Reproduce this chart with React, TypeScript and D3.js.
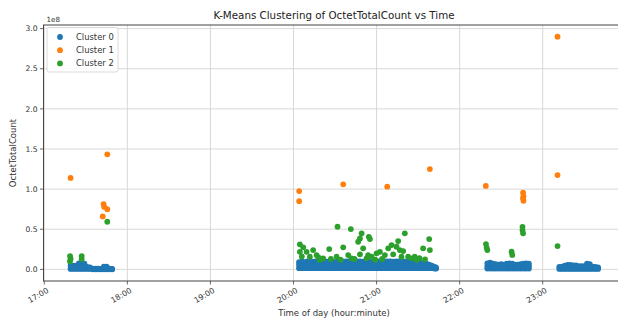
import React from "react";
import * as d3 from "d3";

// ---- data (time "HH:MM[.fraction]", values in units of 1e8) ----
// Cluster 0: each row is a time followed by the observed values at that time
const cluster0: (string | number)[][] = [
  ["17:19", 0.005, 0.045], ["17:21", 0.005, 0.045], ["17:23", 0.005, 0.045],
  ["17:25", 0.005, 0.04, 0.075], ["17:27", 0.005, 0.04, 0.08], ["17:29", 0.005, 0.04, 0.07],
  ["17:31", 0.005, 0.03], ["17:33", 0.005, 0.025], ["17:35", 0.0, 0.01], ["17:37", 0.0, 0.01],
  ["17:39", 0.0, 0.01], ["17:41", 0.0, 0.005], ["17:43", 0.0, 0.035], ["17:45", 0.0, 0.035],
  ["17:47", 0.0, 0.01], ["17:49", 0.0, 0.005],

  ["20:04", 0.015, 0.055, 0.09], ["20:06", 0.015, 0.055, 0.1], ["20:08", 0.015, 0.055, 0.09],
  ["20:10", 0.015, 0.055, 0.1], ["20:12", 0.015, 0.055, 0.1], ["20:14", 0.015, 0.055, 0.095],
  ["20:16", 0.015, 0.055, 0.1], ["20:18", 0.015, 0.055, 0.09], ["20:20", 0.015, 0.055, 0.1],
  ["20:22", 0.015, 0.055, 0.1], ["20:24", 0.015, 0.055, 0.095], ["20:26", 0.015, 0.055, 0.1],
  ["20:28", 0.015, 0.055, 0.1], ["20:30", 0.015, 0.055, 0.09], ["20:32", 0.015, 0.055, 0.1],
  ["20:34", 0.015, 0.055, 0.1], ["20:36", 0.015, 0.055, 0.095], ["20:38", 0.015, 0.055, 0.1],
  ["20:40", 0.015, 0.055, 0.1], ["20:42", 0.015, 0.055, 0.09], ["20:44", 0.015, 0.055, 0.1],
  ["20:46", 0.015, 0.055, 0.1], ["20:48", 0.015, 0.055, 0.1], ["20:50", 0.015, 0.055, 0.095],
  ["20:52", 0.015, 0.055, 0.1], ["20:54", 0.015, 0.055, 0.1], ["20:56", 0.015, 0.055, 0.09],
  ["20:58", 0.015, 0.055, 0.1], ["21:00", 0.015, 0.055, 0.1], ["21:02", 0.015, 0.055, 0.1],
  ["21:04", 0.015, 0.055, 0.095], ["21:06", 0.015, 0.055, 0.1], ["21:08", 0.015, 0.055, 0.1],
  ["21:10", 0.015, 0.055, 0.1], ["21:12", 0.015, 0.055, 0.095], ["21:14", 0.015, 0.055, 0.1],
  ["21:16", 0.015, 0.055, 0.1], ["21:18", 0.015, 0.055, 0.1], ["21:20", 0.015, 0.055, 0.095],
  ["21:22", 0.015, 0.055, 0.1], ["21:24", 0.015, 0.055, 0.1], ["21:26", 0.015, 0.055, 0.09],
  ["21:28", 0.015, 0.055, 0.09], ["21:30", 0.015, 0.05, 0.085], ["21:32", 0.015, 0.05, 0.08],
  ["21:34", 0.015, 0.045, 0.075], ["21:36", 0.015, 0.04, 0.07], ["21:38", 0.015, 0.06],
  ["21:40", 0.015, 0.045], ["21:42", 0.01, 0.03], ["21:43", 0.01, 0.02],

  ["22:20", 0.01, 0.04, 0.075], ["22:22", 0.01, 0.045, 0.085], ["22:24", 0.01, 0.04, 0.07],
  ["22:26", 0.01, 0.065], ["22:28", 0.01, 0.06], ["22:30", 0.01, 0.065], ["22:32", 0.01, 0.06],
  ["22:34", 0.01, 0.04, 0.07], ["22:36", 0.01, 0.04, 0.075], ["22:38", 0.01, 0.04, 0.07],
  ["22:40", 0.01, 0.06], ["22:42", 0.01, 0.06], ["22:44", 0.01, 0.065], ["22:46", 0.01, 0.04, 0.07],
  ["22:48", 0.01, 0.04, 0.075], ["22:50", 0.01, 0.04, 0.07],

  ["23:12", 0.005, 0.03], ["23:14", 0.005, 0.035], ["23:16", 0.005, 0.045], ["23:18", 0.005, 0.055],
  ["23:20", 0.005, 0.055], ["23:22", 0.005, 0.05], ["23:24", 0.005, 0.05], ["23:26", 0.005, 0.04],
  ["23:28", 0.005, 0.04], ["23:30", 0.005, 0.04], ["23:32", 0.005, 0.04, 0.07], ["23:34", 0.005, 0.035, 0.065],
  ["23:36", 0.005, 0.035], ["23:38", 0.005, 0.03], ["23:40", 0.005, 0.025],
];

const cluster1: [string, number][] = [
  ["17:19", 1.14], ["17:42.8", 0.813], ["17:43.2", 0.78], ["17:45.5", 0.75], ["17:42.2", 0.66], ["17:45.5", 1.433],
  ["20:04.1", 0.975], ["20:04.1", 0.85], ["20:35.9", 1.06], ["21:07.7", 1.03], ["21:38.5", 1.25],
  ["22:18.9", 1.04], ["22:45.8", 0.955], ["22:46.1", 0.91], ["22:45.8", 0.885], ["22:46.1", 0.855],
  ["23:10.7", 1.175], ["23:10.7", 2.9],
];

const cluster2: [string, number][] = [
  ["17:18.6", 0.165], ["17:19", 0.13], ["17:18.5", 0.1], ["17:27", 0.165], ["17:27", 0.13], ["17:45.5", 0.593],
  ["20:31.8", 0.531], ["20:41.4", 0.502], ["20:49.2", 0.449], ["20:48", 0.386], ["20:46.7", 0.344],
  ["20:04.6", 0.312], ["20:07", 0.274], ["20:04.6", 0.219], ["20:09.5", 0.219], ["20:14.2", 0.24],
  ["20:16.7", 0.178], ["20:11.8", 0.157], ["20:25.8", 0.253], ["20:35.9", 0.274], ["20:21.4", 0.137],
  ["20:31.1", 0.157], ["20:39.5", 0.178], ["20:48", 0.187], ["20:50.3", 0.262], ["20:41.9", 0.137],
  ["20:52.8", 0.137], ["20:54.4", 0.406], ["20:55.2", 0.378], ["21:20.4", 0.449], ["21:38", 0.378],
  ["21:33.6", 0.262], ["21:38.5", 0.24], ["21:15.6", 0.353], ["21:10.8", 0.303], ["21:08.4", 0.262],
  ["21:14.4", 0.282], ["21:16.8", 0.24], ["21:19.2", 0.228], ["21:02.4", 0.219], ["21:00", 0.199],
  ["21:06", 0.178], ["21:12", 0.187], ["21:18", 0.157], ["21:22.8", 0.157], ["21:25.3", 0.137],
  ["20:53.9", 0.178], ["20:56.4", 0.157], ["21:27.6", 0.157], ["20:19", 0.12], ["20:27", 0.13],
  ["20:34", 0.12], ["20:44", 0.13], ["20:59", 0.12], ["21:04", 0.13], ["21:29", 0.12], ["21:31", 0.14],
  ["21:35", 0.125], ["20:06", 0.16], ["20:18", 0.15],
  ["22:45.4", 0.53], ["22:45.4", 0.49], ["22:45.8", 0.45], ["22:19", 0.315], ["22:19.5", 0.27], ["22:20", 0.24],
  ["22:37.5", 0.22], ["22:38", 0.18], ["23:10.7", 0.29],
];

const clusterNames = ["Cluster 0", "Cluster 1", "Cluster 2"];
const clusterColors = ["#1f77b4", "#ff7f0e", "#2ca02c"];
const xTickLabels = ["17:00", "18:00", "19:00", "20:00", "21:00", "22:00", "23:00"];
const yTicks = [0, 0.5, 1.0, 1.5, 2.0, 2.5, 3.0];

function parseT(s: string): Date {
  const [h, m] = s.split(":");
  return new Date(new Date(2024, 0, 1, +h, 0, 0).getTime() + parseFloat(m) * 60000);
}

type Pt = { t: Date; v: number };

export default function App() {
  const W = 618, H = 320;
  const left = 43.5, right = 624.5, top = 25, bottom = 281;

  const pts0: Pt[] = [];
  cluster0.forEach((row) => {
    const t = parseT(row[0] as string);
    for (let i = 1; i < row.length; i++) pts0.push({ t, v: row[i] as number });
  });
  const pts1: Pt[] = cluster1.map(([s, v]) => ({ t: parseT(s), v }));
  const pts2: Pt[] = cluster2.map(([s, v]) => ({ t: parseT(s), v }));
  const all = [...pts0, ...pts1, ...pts2];

  const [tMin, tMax] = d3.extent(all, (d) => d.t.getTime()) as [number, number];
  const [vMin, vMax] = d3.extent(all, (d) => d.v) as [number, number];
  const tPad = (tMax - tMin) * 0.05, vPad = (vMax - vMin) * 0.05;

  const x = d3.scaleTime().domain([new Date(tMin - tPad), new Date(tMax + tPad)]).range([left, right]);
  const y = d3.scaleLinear().domain([vMin - vPad, vMax + vPad]).range([bottom, top]);

  const xTicks = xTickLabels.map(parseT);
  const fmt = d3.timeFormat("%H:%M");
  const font = "DejaVu Sans, sans-serif";
  const axisColor = "#444";
  const gridColor = "#d4d4d4";
  const r = 2.9;

  const series = [pts0, pts1, pts2];

  return (
    <svg width={W} height={H} style={{ position: "absolute", left: 0, top: 0, background: "#fff" }} fontFamily={font}>
      <defs>
        <clipPath id="plotclip">
          <rect x={left} y={top} width={right - left} height={bottom - top} />
        </clipPath>
      </defs>
      <rect x={0} y={0} width={W} height={H} fill="#fff" />
      {/* grid */}
      {xTicks.map((t, i) => (
        <line key={"gx" + i} x1={x(t)} x2={x(t)} y1={top} y2={bottom} stroke={gridColor} strokeWidth={0.9} />
      ))}
      {yTicks.map((v, i) => (
        <line key={"gy" + i} x1={left} x2={right} y1={y(v)} y2={y(v)} stroke={gridColor} strokeWidth={0.9} />
      ))}
      {/* points */}
      <g clipPath="url(#plotclip)">
        {series.map((pts, si) => (
          <g key={"s" + si} fill={clusterColors[si]}>
            {pts.map((d, i) => (
              <circle key={i} cx={x(d.t)} cy={y(d.v)} r={r} />
            ))}
          </g>
        ))}
      </g>
      {/* spines */}
      <rect x={left} y={top} width={right - left} height={bottom - top} fill="none" stroke={axisColor} strokeWidth={1} />
      {/* x ticks */}
      {xTicks.map((t, i) => (
        <g key={"xt" + i} transform={`translate(${x(t)},${bottom})`}>
          <line y1={0} y2={3.5} stroke={axisColor} strokeWidth={0.8} />
          <text
            transform="translate(2,6) rotate(-30)"
            textAnchor="end"
            dy="0.75em"
            fontSize={7.8}
            fill="#333"
          >
            {fmt(t)}
          </text>
        </g>
      ))}
      {/* y ticks */}
      {yTicks.map((v, i) => (
        <g key={"yt" + i} transform={`translate(${left},${y(v)})`}>
          <line x1={-3.5} x2={0} stroke={axisColor} strokeWidth={0.8} />
          <text x={-6} dy="0.35em" textAnchor="end" fontSize={7.6} fill="#333">
            {v.toFixed(1)}
          </text>
        </g>
      ))}
      <text x={left + 3} y={top - 3.5} fontSize={7.2} fill="#333">1e8</text>
      {/* title and labels */}
      <text x={(left + right) / 2} y={19} textAnchor="middle" fontSize={10.3} fill="#222">
        K-Means Clustering of OctetTotalCount vs Time
      </text>
      <text x={(left + right) / 2} y={316} textAnchor="middle" fontSize={8.5} fill="#333">
        Time of day (hour:minute)
      </text>
      <text transform={`translate(16,${(top + bottom) / 2}) rotate(-90)`} textAnchor="middle" fontSize={8.5} fill="#333">
        OctetTotalCount
      </text>
      {/* legend */}
      <g transform={`translate(47,27.5)`}>
        <rect x={0} y={0} width={71} height={44.5} rx={2} fill="#fff" fillOpacity={0.85} stroke="#d0d0d0" strokeWidth={0.8} />
        {clusterNames.map((n, i) => (
          <g key={n} transform={`translate(0,${9.5 + i * 13.2})`}>
            <circle cx={13} cy={0} r={r} fill={clusterColors[i]} />
            <text x={29} dy="0.35em" fontSize={8.4} fill="#333">{n}</text>
          </g>
        ))}
      </g>
    </svg>
  );
}
